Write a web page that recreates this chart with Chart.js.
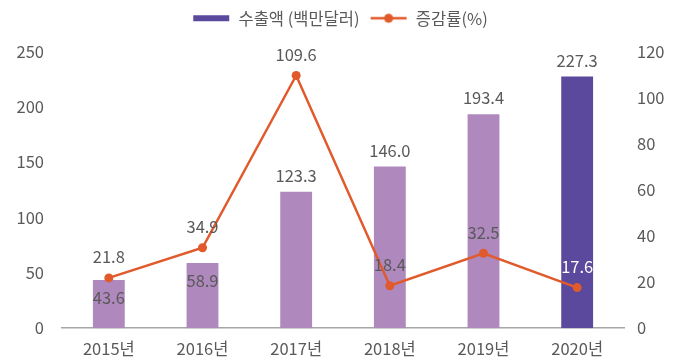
<!DOCTYPE html>
<html>
<head>
<meta charset="utf-8">
<script src="https://cdn.jsdelivr.net/npm/chart.js@4/dist/chart.umd.min.js"></script>
<style>
    html, body { margin: 0; padding: 0; background: #fff; }
    #wrap { width: 680px; height: 364px; }
</style>
</head>
<body>
<div id="wrap"><canvas id="exportChart"></canvas></div>
<script>
const years = ['2015년', '2016년', '2017년', '2018년', '2019년', '2020년'];
const exportValues = [43.6, 58.9, 123.3, 146.0, 193.4, 227.3];
const growthRates = [21.8, 34.9, 109.6, 18.4, 32.5, 17.6];
const leftTicks = [0, 50, 100, 150, 200, 250];
const rightTicks = [0, 20, 40, 60, 80, 100, 120];

const barColors = ['#AF88BE', '#AF88BE', '#AF88BE', '#AF88BE', '#AF88BE', '#5A499C'];
const lineColor = '#E05A2B';
const textColor = '#595959';
const fontFamily = '"Noto Sans CJK KR", "Noto Sans", sans-serif';
const fontSize = 16.5;

// legend swatches
function makeSwatch(kind) {
    const c = document.createElement('canvas');
    c.width = 38; c.height = 12;
    const g = c.getContext('2d');
    if (kind === 'bar') {
        g.fillStyle = '#5A499C';
        g.fillRect(1, 3, 36, 6);
    } else {
        g.strokeStyle = lineColor;
        g.lineWidth = 2.5;
        g.beginPath(); g.moveTo(1, 6); g.lineTo(37, 6); g.stroke();
        g.fillStyle = lineColor;
        g.beginPath(); g.arc(19, 6, 4.5, 0, Math.PI * 2); g.fill();
    }
    return c;
}
const swatches = [makeSwatch('bar'), makeSwatch('line')];

// extra gap under the legend
const legendGap = {
    id: 'legendGap',
    beforeInit(chart) {
        const origFit = chart.legend.fit;
        chart.legend.fit = function () {
            origFit.bind(this)();
            this.height += 15;
        };
    }
};

// value labels for bars and points
const valueLabels = {
    id: 'valueLabels',
    afterDatasetsDraw(chart) {
        const ctx = chart.ctx;
        const barMeta = chart.getDatasetMeta(1);
        const lineMeta = chart.getDatasetMeta(0);
        ctx.save();
        ctx.font = fontSize + 'px ' + fontFamily;
        ctx.textAlign = 'center';
        ctx.textBaseline = 'middle';
        barMeta.data.forEach((bar, i) => {
            const pt = lineMeta.data[i];
            const inside = Math.abs(pt.y - bar.y) < 30;
            ctx.fillStyle = textColor;
            ctx.fillText(exportValues[i].toFixed(1), bar.x, inside ? bar.y + 18 : bar.y - 16);
        });
        lineMeta.data.forEach((pt, i) => {
            const bar = barMeta.data[i];
            const onDark = barColors[i] === '#5A499C' && pt.y - 21 > bar.y;
            ctx.fillStyle = onDark ? '#FFFFFF' : textColor;
            ctx.fillText(growthRates[i].toFixed(1), pt.x, pt.y - 21);
        });
        ctx.restore();
    }
};

const ctx = document.getElementById('exportChart').getContext('2d');
const exportChart = new Chart(ctx, {
    data: {
        labels: years,
        datasets: [{
            type: 'line',
            label: '증감률(%)',
            data: growthRates,
            yAxisID: 'y2',
            borderColor: lineColor,
            backgroundColor: lineColor,
            borderWidth: 2.5,
            pointRadius: 4.5,
            pointBackgroundColor: lineColor,
            pointBorderWidth: 0,
            tension: 0,
            order: 0
        }, {
            type: 'bar',
            label: '수출액 (백만달러)',
            data: exportValues,
            yAxisID: 'y',
            backgroundColor: barColors,
            barPercentage: 0.34,
            categoryPercentage: 1,
            order: 1
        }]
    },
    options: {
        responsive: true,
        maintainAspectRatio: false,
        animation: false,
        layout: {
            padding: { left: 0, right: 0, top: 0, bottom: 2 }
        },
        plugins: {
            legend: {
                position: 'top',
                labels: {
                    usePointStyle: true,
                    pointStyleWidth: 38,
                    boxHeight: 12,
                    padding: 10,
                    color: textColor,
                    font: { family: fontFamily, size: fontSize },
                    generateLabels: function (chart) {
                        return [1, 0].map((di, k) => ({
                            text: chart.data.datasets[di].label,
                            pointStyle: swatches[k],
                            fillStyle: 'transparent',
                            strokeStyle: 'transparent',
                            lineWidth: 0,
                            fontColor: textColor,
                            datasetIndex: di
                        }));
                    }
                }
            },
            tooltip: { enabled: false }
        },
        scales: {
            x: {
                grid: { display: false },
                border: { display: true, color: '#A6A6A6', width: 1.5 },
                ticks: {
                    color: textColor,
                    font: { family: fontFamily, size: fontSize },
                    padding: 3
                }
            },
            y: {
                position: 'left',
                min: 0,
                max: 250,
                afterBuildTicks: axis => { axis.ticks = leftTicks.map(v => ({ value: v })); },
                afterFit: axis => { axis.width = 62; },
                grid: { display: false, drawTicks: false },
                border: { display: false },
                ticks: {
                    color: textColor,
                    font: { family: fontFamily, size: fontSize },
                    padding: 18
                }
            },
            y2: {
                position: 'right',
                min: 0,
                max: 120,
                afterBuildTicks: axis => { axis.ticks = rightTicks.map(v => ({ value: v })); },
                afterFit: axis => { axis.width = 56; },
                grid: { display: false, drawTicks: false },
                border: { display: false },
                ticks: {
                    color: textColor,
                    font: { family: fontFamily, size: fontSize },
                    padding: 13
                }
            }
        }
    },
    plugins: [legendGap, valueLabels]
});
</script>
</body>
</html>
